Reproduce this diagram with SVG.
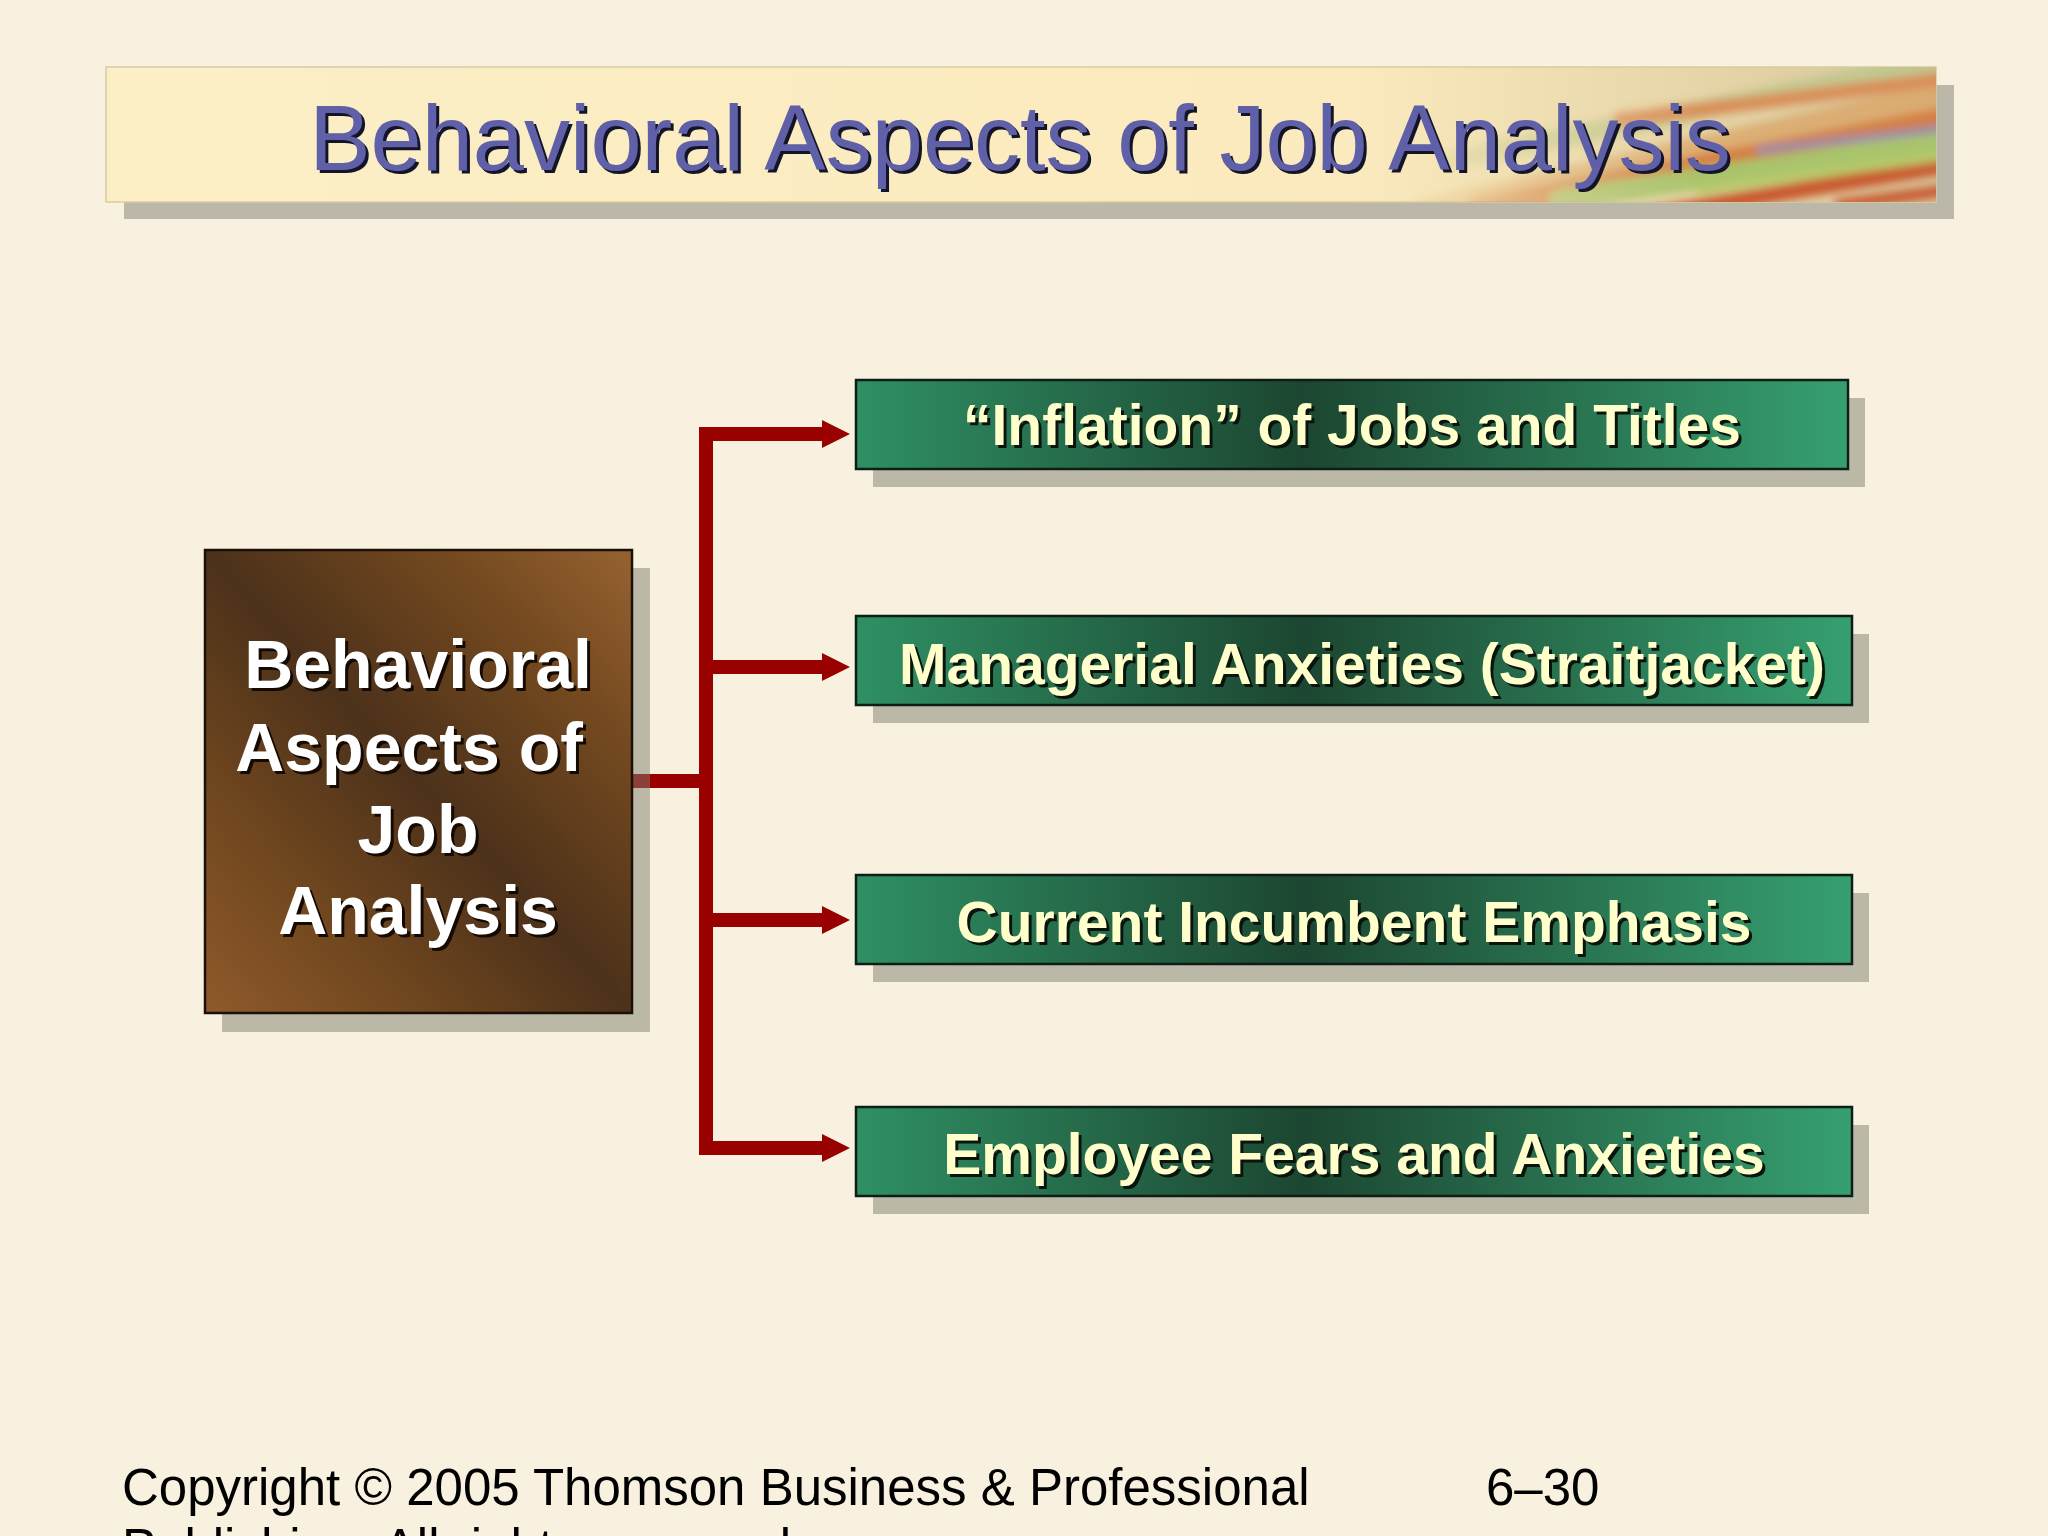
<svg xmlns="http://www.w3.org/2000/svg" width="2048" height="1536" viewBox="0 0 2048 1536">
  <defs>
    <style>
      .shadow { fill: #808070; fill-opacity: 0.5; }
      .green { fill: url(#gGreen); stroke: #0d1f14; stroke-width: 2.5; }
      .gtext { font-family: "Liberation Sans", Arial, sans-serif; font-weight: bold; font-size: 57px; fill: #ffffcc; text-anchor: middle; }
      .gshad { font-family: "Liberation Sans", Arial, sans-serif; font-weight: bold; font-size: 57px; fill: #0a140c; text-anchor: middle; }
      .btext { font-family: "Liberation Sans", Arial, sans-serif; font-weight: bold; font-size: 68px; fill: #ffffff; text-anchor: middle; }
      .bshad { font-family: "Liberation Sans", Arial, sans-serif; font-weight: bold; font-size: 68px; fill: #140a02; text-anchor: middle; }
      .conn { fill: none; stroke: #990000; stroke-width: 14; stroke-linejoin: miter; }
      .foot { font-family: "Liberation Sans", Arial, sans-serif; font-size: 51px; fill: #000000; }
    </style>
    <linearGradient id="gGreen" x1="0" y1="0" x2="1" y2="0">
      <stop offset="0" stop-color="#2f9064"/>
      <stop offset="0.45" stop-color="#1c4631"/>
      <stop offset="1" stop-color="#36a070"/>
    </linearGradient>
    <linearGradient id="gBrown" x1="0" y1="1" x2="1" y2="0">
      <stop offset="0" stop-color="#8e5a2c"/>
      <stop offset="0.22" stop-color="#74491f"/>
      <stop offset="0.5" stop-color="#4c311a"/>
      <stop offset="0.78" stop-color="#74491f"/>
      <stop offset="1" stop-color="#966232"/>
    </linearGradient>
    <linearGradient id="gBand" x1="0" y1="0" x2="1" y2="0">
      <stop offset="0" stop-color="#fcefc6"/>
      <stop offset="0.68" stop-color="#fbeabd"/>
      <stop offset="1" stop-color="#d8c79a"/>
    </linearGradient>
    <linearGradient id="gFade" gradientUnits="userSpaceOnUse" x1="1360" y1="0" x2="1700" y2="0">
      <stop offset="0" stop-color="#ffffff" stop-opacity="0"/>
      <stop offset="1" stop-color="#ffffff" stop-opacity="1"/>
    </linearGradient>
    <mask id="mFade">
      <rect x="106" y="67" width="1830" height="135" fill="url(#gFade)"/>
    </mask>
    <clipPath id="cBand">
      <rect x="106" y="67" width="1830" height="135"/>
    </clipPath>
    <filter id="fBlur" x="-10%" y="-50%" width="120%" height="200%">
      <feGaussianBlur stdDeviation="4"/>
    </filter>
    <marker id="arrow" markerUnits="userSpaceOnUse" markerWidth="30" markerHeight="30" refX="0" refY="14" orient="auto">
      <path d="M0 0 L28 14 L0 28 Z" fill="#990000"/>
    </marker>
  </defs>

  <rect x="0" y="0" width="2048" height="1536" fill="#f8f1df"/>

  <g id="title">
    <rect x="124" y="85" width="1830" height="134" fill="#bcb8a9"/>
    <rect x="106" y="67" width="1830" height="135" fill="url(#gBand)" stroke="#d9cba0" stroke-width="1.5"/>
    <g clip-path="url(#cBand)" mask="url(#mFade)">
      <g filter="url(#fBlur)" stroke-linecap="round" fill="none">
        <path d="M1420 215 L1950 95" stroke="#d9a060" stroke-width="30" opacity="0.7"/>
        <path d="M1480 210 L1950 120" stroke="#d47f45" stroke-width="26"/>
        <path d="M1560 200 L1950 140" stroke="#a9c46c" stroke-width="22"/>
        <path d="M1650 215 L1950 165" stroke="#c9592f" stroke-width="16"/>
        <path d="M1450 160 L1950 60" stroke="#bcc58c" stroke-width="20" opacity="0.8"/>
        <path d="M1620 120 L1950 78" stroke="#d98e58" stroke-width="14"/>
        <path d="M1760 150 L1950 128" stroke="#9c8eaa" stroke-width="8"/>
        <path d="M1700 190 L1950 155" stroke="#b8c96a" stroke-width="10"/>
        <path d="M1840 205 L1950 190" stroke="#c85a30" stroke-width="12"/>
      </g>
    </g>
    <text x="1023" y="173" font-family="Liberation Sans, Arial, sans-serif" font-size="92" fill="#141428" text-anchor="middle">Behavioral Aspects of Job Analysis</text>
    <text x="1020" y="170" font-family="Liberation Sans, Arial, sans-serif" font-size="92" fill="#6060a8" text-anchor="middle">Behavioral Aspects of Job Analysis</text>
  </g>

  <g id="connectors">
    <path class="conn" d="M632 781 H706"/>
    <path class="conn" d="M706 427 V1155"/>
    <path class="conn" d="M706 434 H822" marker-end="url(#arrow)"/>
    <path class="conn" d="M706 667 H822" marker-end="url(#arrow)"/>
    <path class="conn" d="M706 920 H822" marker-end="url(#arrow)"/>
    <path class="conn" d="M706 1148 H822" marker-end="url(#arrow)"/>
  </g>

  <g id="node-main">
    <rect class="shadow" x="222" y="568" width="428" height="464"/>
    <rect x="205" y="550" width="427" height="463" fill="url(#gBrown)" stroke="#1a1008" stroke-width="2.5"/>
    <text class="bshad" x="421" y="691">Behavioral</text>
    <text class="btext" x="418" y="688">Behavioral</text>
    <text class="bshad" x="412" y="774">Aspects of</text>
    <text class="btext" x="409" y="771">Aspects of</text>
    <text class="bshad" x="421" y="856">Job</text>
    <text class="btext" x="418" y="853">Job</text>
    <text class="bshad" x="421" y="937">Analysis</text>
    <text class="btext" x="418" y="934">Analysis</text>
  </g>

  <g id="node-inflation">
    <rect class="shadow" x="873" y="398" width="992" height="89"/>
    <rect class="green" x="856" y="380" width="992" height="89"/>
    <text class="gshad" x="1355" y="448">“Inflation” of Jobs and Titles</text>
    <text class="gtext" x="1352" y="445">“Inflation” of Jobs and Titles</text>
  </g>

  <g id="node-managerial">
    <rect class="shadow" x="873" y="634" width="996" height="89"/>
    <rect class="green" x="856" y="616" width="996" height="89"/>
    <text class="gshad" x="1365" y="687">Managerial Anxieties (Straitjacket)</text>
    <text class="gtext" x="1362" y="684">Managerial Anxieties (Straitjacket)</text>
  </g>

  <g id="node-incumbent">
    <rect class="shadow" x="873" y="893" width="996" height="89"/>
    <rect class="green" x="856" y="875" width="996" height="89"/>
    <text class="gshad" x="1357" y="945">Current Incumbent Emphasis</text>
    <text class="gtext" x="1354" y="942">Current Incumbent Emphasis</text>
  </g>

  <g id="node-employee">
    <rect class="shadow" x="873" y="1125" width="996" height="89"/>
    <rect class="green" x="856" y="1107" width="996" height="89"/>
    <text class="gshad" x="1357" y="1177">Employee Fears and Anxieties</text>
    <text class="gtext" x="1354" y="1174">Employee Fears and Anxieties</text>
  </g>

  <g id="footer">
    <text class="foot" x="122" y="1505">Copyright © 2005 Thomson Business &amp; Professional</text>
    <text class="foot" x="122" y="1565">Publishing. All rights reserved.</text>
    <text class="foot" x="1486" y="1505">6–30</text>
  </g>
</svg>
